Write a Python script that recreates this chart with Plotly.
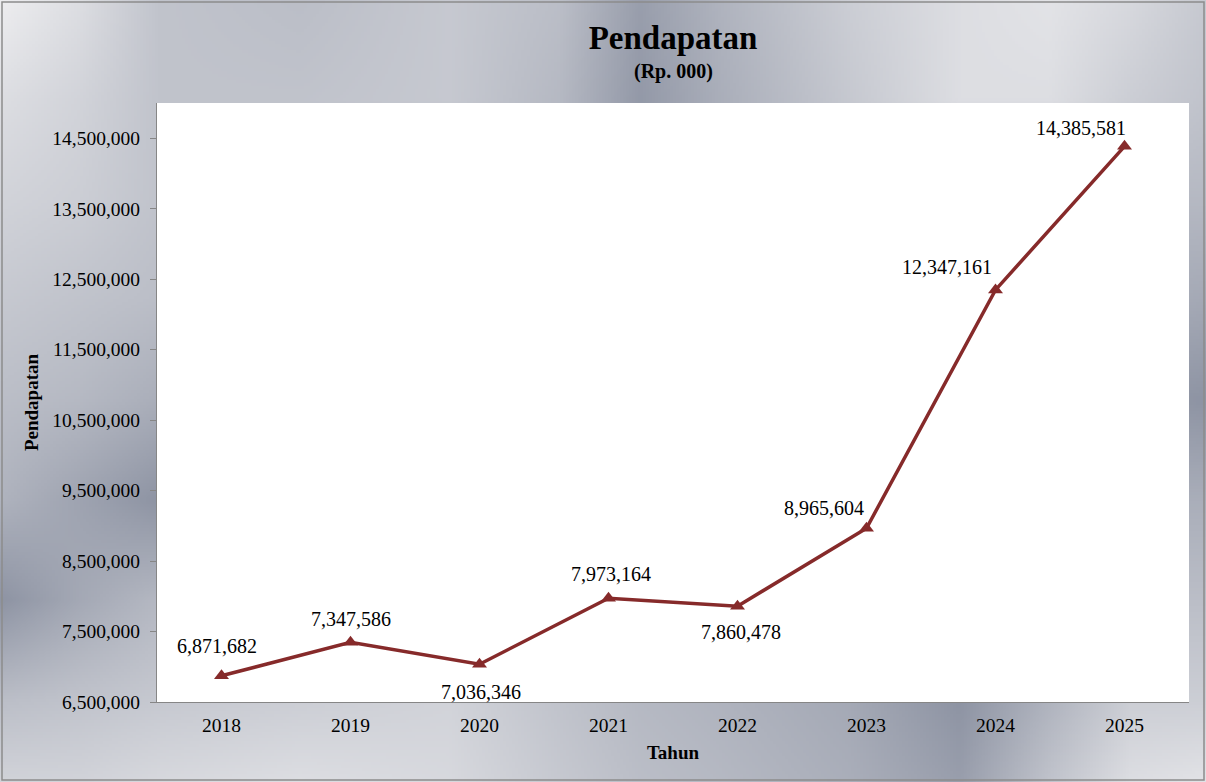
import base64
import struct
import zlib

import numpy as np
import plotly.graph_objects as go

# ---------------- data ----------------
years = ["2018", "2019", "2020", "2021", "2022", "2023", "2024", "2025"]
pendapatan = [6871682, 7347586, 7036346, 7973164, 7860478, 8965604, 12347161, 14385581]
y_ticks = [6500000, 7500000, 8500000, 9500000, 10500000, 11500000, 12500000, 13500000, 14500000]
y_range = [6500000, 15000000]

# label placement (pixels: xshift, yshift) - style only
label_shift = [(-5, 30), (0, 23), (1, -28), (2, 24), (3, -26), (-43, 20), (-49, 23), (-44, 18)]

# ---------------- figure geometry ----------------
W, H = 1206, 782
ML, MR, MT, MB = 157, 17, 103, 80
PW, PH = W - ML - MR, H - MT - MB

# ---------------- metallic background (generated png) ----------------
gx = [0, 80, 160, 300, 450, 560, 640, 720, 850, 960, 1050, 1130, 1206]
gy = [0, 100, 200, 300, 400, 500, 600, 700, 782]
G = [
    [0.00, 0.15, 0.40, 0.45, 0.35, 0.45, 0.75, 0.55, 0.30, 0.15, 0.10, 0.20, 0.35],
    [0.15, 0.25, 0.40, 0.40, 0.35, 0.50, 0.80, 0.60, 0.35, 0.15, 0.15, 0.30, 0.40],
    [0.25, 0.30, 0.40, 0.50, 0.50, 0.50, 0.50, 0.50, 0.50, 0.50, 0.50, 0.50, 0.50],
    [0.35, 0.40, 0.45, 0.50, 0.50, 0.50, 0.50, 0.50, 0.50, 0.50, 0.50, 0.60, 0.65],
    [0.45, 0.50, 0.60, 0.50, 0.50, 0.50, 0.50, 0.50, 0.50, 0.50, 0.50, 0.80, 0.85],
    [0.55, 0.70, 0.85, 0.60, 0.50, 0.50, 0.50, 0.50, 0.50, 0.50, 0.50, 0.60, 0.60],
    [0.85, 0.65, 0.50, 0.45, 0.50, 0.50, 0.50, 0.50, 0.50, 0.50, 0.50, 0.45, 0.45],
    [0.45, 0.40, 0.35, 0.30, 0.25, 0.40, 0.50, 0.55, 0.65, 0.85, 0.55, 0.30, 0.30],
    [0.25, 0.25, 0.20, 0.15, 0.20, 0.35, 0.45, 0.50, 0.60, 0.75, 0.40, 0.15, 0.10],
]
light = np.array([238, 238, 240], dtype=float)
dark = np.array([125, 132, 150], dtype=float)

sw, sh = W // 3, H // 3
xs = (np.arange(sw) + 0.5) * W / sw
ys = (np.arange(sh) + 0.5) * H / sh
rows = np.array([np.interp(xs, gx, r) for r in G])  # (len(gy), sw)
field = np.empty((sh, sw))
for j in range(sw):
    field[:, j] = np.interp(ys, gy, rows[:, j])
img = light[None, None, :] + (dark - light)[None, None, :] * field[:, :, None]
img = np.clip(img, 0, 255).astype(np.uint8)


def png_uri(a):
    h, w, _ = a.shape
    raw = b"".join(b"\x00" + a[r].tobytes() for r in range(h))

    def chunk(t, d):
        c = struct.pack(">I", len(d)) + t + d
        return c + struct.pack(">I", zlib.crc32(t + d) & 0xFFFFFFFF)

    png = b"\x89PNG\r\n\x1a\n"
    png += chunk(b"IHDR", struct.pack(">IIBBBBB", w, h, 8, 2, 0, 0, 0))
    png += chunk(b"IDAT", zlib.compress(raw, 9))
    png += chunk(b"IEND", b"")
    return "data:image/png;base64," + base64.b64encode(png).decode()


bg_src = png_uri(img)

FONT = "Liberation Serif, Times New Roman, serif"
LINE_COLOR = "#862a2a"

fig = go.Figure()
fig.add_trace(
    go.Scatter(
        x=years,
        y=pendapatan,
        mode="lines+markers",
        line=dict(color=LINE_COLOR, width=3.5),
        marker=dict(symbol="triangle-up", size=13, color=LINE_COLOR),
        showlegend=False,
        hoverinfo="x+y",
    )
)

annotations = []
for i, (v, (dx, dy)) in enumerate(zip(pendapatan, label_shift)):
    annotations.append(
        dict(
            x=i, y=v, xref="x", yref="y",
            text=f"{v:,}",
            showarrow=False,
            xshift=dx, yshift=dy,
            xanchor="center", yanchor="middle",
            font=dict(family=FONT, size=20, color="#000000"),
        )
    )

# subtitle
annotations.append(
    dict(
        x=0.5, y=1 + (MT - 71) / PH, xref="paper", yref="paper",
        text="<b>(Rp. 000)</b>", showarrow=False,
        xanchor="center", yanchor="middle",
        font=dict(family=FONT, size=20, color="#000000"),
    )
)

fig.update_layout(
    width=W,
    height=H,
    margin=dict(l=ML, r=MR, t=MT, b=MB, autoexpand=False),
    paper_bgcolor="#c8cad0",
    plot_bgcolor="#ffffff",
    title=dict(
        text="<b>Pendapatan</b>",
        x=0.5, xref="paper",
        y=(H - 37) / H, yref="container",
        xanchor="center", yanchor="middle",
        font=dict(family=FONT, size=33, color="#000000"),
    ),
    xaxis=dict(
        type="category",
        range=[-0.5, len(years) - 0.5],
        showline=True, linecolor="#868686", linewidth=1,
        ticks="", showgrid=False, zeroline=False,
        ticklabelstandoff=6,
        tickfont=dict(family=FONT, size=19.5, color="#000000"),
        title=dict(text="<b>Tahun</b>", standoff=10,
                   font=dict(family=FONT, size=19, color="#000000")),
        automargin=False,
    ),
    yaxis=dict(
        range=y_range,
        tickvals=y_ticks,
        tickformat=",",
        showline=True, linecolor="#868686", linewidth=1,
        ticks="outside", ticklen=6, tickcolor="#868686",
        showgrid=False, zeroline=False,
        ticklabelstandoff=6,
        tickfont=dict(family=FONT, size=19.5, color="#000000"),
        title=dict(text="<b>Pendapatan</b>", standoff=8,
                   font=dict(family=FONT, size=19, color="#000000")),
        automargin=False,
    ),
    annotations=annotations,
    images=[
        dict(
            source=bg_src,
            xref="paper", yref="paper",
            x=-ML / PW, y=1 + MT / PH,
            sizex=W / PW, sizey=H / PH,
            xanchor="left", yanchor="top",
            sizing="stretch", layer="below",
        )
    ],
    shapes=[
        # white plot area drawn above the background picture
        dict(
            type="rect", xref="paper", yref="paper",
            x0=0, x1=1, y0=0, y1=1,
            line=dict(width=0), fillcolor="#ffffff", layer="below",
        ),
        # outer chart border
        dict(
            type="rect", xref="paper", yref="paper",
            x0=(2 - ML) / PW, x1=(W - 2 - ML) / PW,
            y0=-(MB - 2) / PH, y1=1 + (MT - 2) / PH,
            line=dict(color="#8c8c8c", width=1.5),
            fillcolor="rgba(0,0,0,0)", layer="above",
        ),
    ],
)

fig.write_html(
    "out.html",
    config={"displayModeBar": False},
    post_script="document.body.style.margin='0';document.body.style.overflow='hidden';",
)
